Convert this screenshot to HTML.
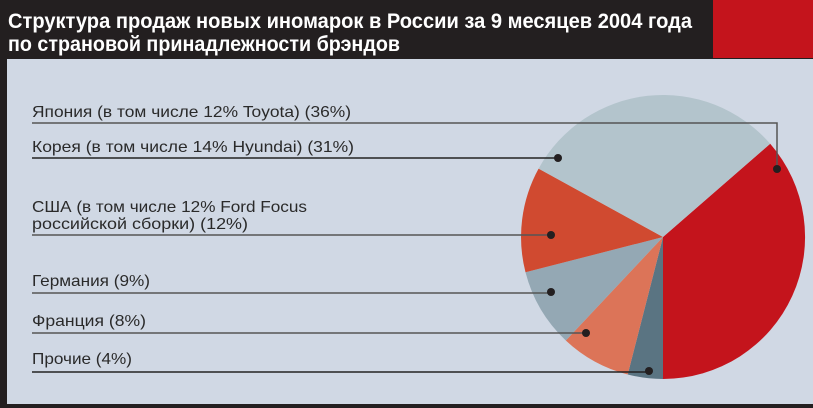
<!DOCTYPE html>
<html><head><meta charset="utf-8"><style>
html,body{margin:0;padding:0;background:#231f20}
svg{display:block}
text{font-family:"Liberation Sans","DejaVu Sans",sans-serif}
</style></head><body>
<svg width="813" height="408" viewBox="0 0 813 408" xmlns="http://www.w3.org/2000/svg">
<rect x="0" y="0" width="813" height="408" fill="#231f20"/>
<rect x="713" y="0" width="100" height="58" fill="#c4141c"/>
<rect x="7" y="59" width="806" height="345" fill="#d0d8e4"/>
<g fill="#fff" font-weight="bold" font-size="21">
<text x="8" y="28" textLength="684" lengthAdjust="spacingAndGlyphs">Структура продаж новых иномарок в России за 9 месяцев 2004 года</text>
<text x="8" y="51" textLength="392" lengthAdjust="spacingAndGlyphs">по страновой принадлежности брэндов</text>
</g>
<g stroke="none">
<path d="M663,237 L770.2,143.8 A142,142 0 0,1 663,379 Z" fill="#c4141c"/>
<path d="M663,237 L663,379 A142,142 0 0,1 627.7,374.5 Z" fill="#5a7482"/>
<path d="M663,237 L627.7,374.5 A142,142 0 0,1 565.8,340.5 Z" fill="#dc7458"/>
<path d="M663,237 L565.8,340.5 A142,142 0 0,1 525.5,272.3 Z" fill="#94a8b4"/>
<path d="M663,237 L525.5,272.3 A142,142 0 0,1 538.6,168.6 Z" fill="#d04a30"/>
<path d="M663,237 L538.6,168.6 A142,142 0 0,1 770.2,143.8 Z" fill="#b3c4cc"/>
</g>
<g stroke="#555" stroke-width="1.5" fill="none">
<polyline points="32,123 777,123 777,169"/>
<line x1="32" y1="158" x2="558" y2="158" stroke="#222"/>
<line x1="32" y1="235" x2="551" y2="235"/>
<line x1="32" y1="293" x2="551" y2="293"/>
<line x1="32" y1="333" x2="586" y2="333"/>
<line x1="32" y1="372" x2="649" y2="372" stroke="#222"/>
</g>
<g fill="#231f20">
<circle cx="777" cy="169" r="4"/>
<circle cx="558" cy="158" r="4"/>
<circle cx="551" cy="235" r="4"/>
<circle cx="551" cy="292" r="4"/>
<circle cx="586" cy="333" r="4"/>
<circle cx="649" cy="371" r="4"/>
</g>
<g fill="#2a2a2a" font-size="16">
<text x="32" y="117" textLength="319" lengthAdjust="spacingAndGlyphs">Япония (в том числе 12% Toyota) (36%)</text>
<text x="32" y="152" textLength="322" lengthAdjust="spacingAndGlyphs">Корея (в том числе 14% Hyundai) (31%)</text>
<text x="32" y="212" textLength="275" lengthAdjust="spacingAndGlyphs">США (в том числе 12% Ford Focus</text>
<text x="32" y="229" textLength="216" lengthAdjust="spacingAndGlyphs">российской сборки) (12%)</text>
<text x="32" y="286" textLength="118" lengthAdjust="spacingAndGlyphs">Германия (9%)</text>
<text x="32" y="326" textLength="114" lengthAdjust="spacingAndGlyphs">Франция (8%)</text>
<text x="32" y="364" textLength="100" lengthAdjust="spacingAndGlyphs">Прочие (4%)</text>
</g>
</svg>
</body></html>
